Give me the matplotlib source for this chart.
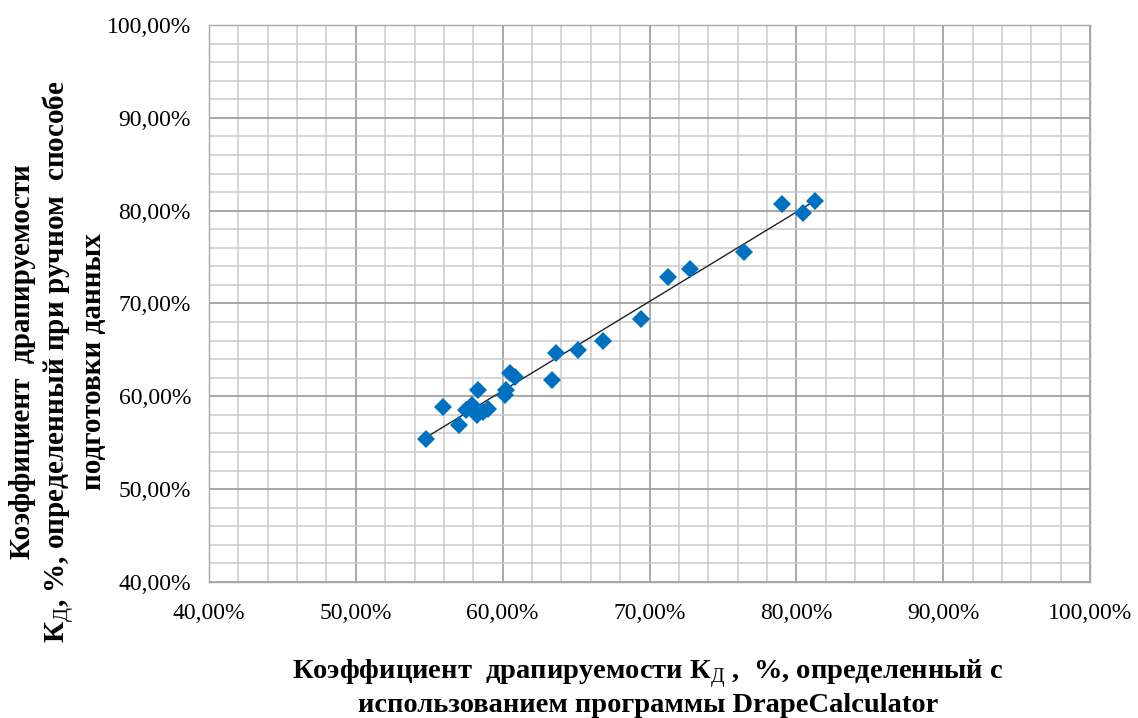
import numpy as np
import matplotlib
matplotlib.use('Agg')
import matplotlib.pyplot as plt
from matplotlib.ticker import MultipleLocator, FuncFormatter

plt.rcParams['font.family'] = ['Liberation Serif', 'DejaVu Serif']
plt.rcParams['mathtext.fontset'] = 'custom'
plt.rcParams['mathtext.rm'] = 'Liberation Serif'
plt.rcParams['mathtext.bf'] = 'Liberation Serif:bold'

# Kd from DrapeCalculator (x) vs manual method (y), %
kd_program = [54.81, 55.94, 57.03, 57.48, 57.89, 58.23, 58.32, 58.64, 58.98,
              60.14, 60.20, 60.48, 60.82, 63.38, 63.65, 65.12, 66.80, 69.44,
              71.29, 72.77, 76.41, 79.03, 80.48, 81.27]
kd_manual = [55.45, 58.85, 56.96, 58.49, 59.03, 57.96, 60.72, 58.28, 58.60,
             60.11, 60.65, 62.47, 62.04, 61.72, 64.66, 64.95, 65.97, 68.35,
             72.83, 73.73, 75.59, 80.72, 79.71, 81.00]

x = np.array(kd_program)
y = np.array(kd_manual)

fig = plt.figure(figsize=(11.38, 7.18), dpi=100)
ax = fig.add_axes([209/1138, 1-582/718, (1090-209)/1138, (582-25)/718])

# grid
ax.xaxis.set_major_locator(MultipleLocator(10))
ax.yaxis.set_major_locator(MultipleLocator(10))
ax.xaxis.set_minor_locator(MultipleLocator(2))
ax.yaxis.set_minor_locator(MultipleLocator(2))
ax.grid(which='minor', color='#cacaca', linewidth=1.1)
ax.grid(which='major', color='#9a9a9a', linewidth=1.2)
ax.set_axisbelow(True)

# linear trend
k, b = np.polyfit(x, y, 1)
xt = np.array([x.min(), x.max()])
ax.plot(xt, k*xt + b, color='#222222', linewidth=1.0, zorder=2)

ax.plot(x, y, linestyle='none', marker='D', markersize=9, color='#0070C0',
        markeredgewidth=0, zorder=3)

ax.set_xlim(40, 100)
ax.set_ylim(40, 100)

fmt = FuncFormatter(lambda v, p: f'{v:.2f}%'.replace('.', ','))
ax.xaxis.set_major_formatter(fmt)
ax.yaxis.set_major_formatter(fmt)
ax.tick_params(which='both', length=0, labelsize=17, colors='#000000')
ax.tick_params(axis='x', pad=15)
ax.tick_params(axis='y', pad=13)

for s in ax.spines.values():
    s.set_color('#a8a8a8')
    s.set_linewidth(1.0)

fig.text(648/1138, 1-688/718,
         'Коэффициент  драпируемости К$_\\mathrm{Д}$ ,  %, определенный с\n'
         'использованием программы DrapeCalculator',
         ha='center', va='center', fontsize=20.5, fontweight='bold',
         linespacing=1.12)

fig.text(58/1138, 1-362/718,
         'Коэффициент  драпируемости\n'
         'К$_\\mathrm{Д}$, %, определенный при ручном  способе\n'
         'подготовки данных',
         ha='center', va='center', rotation=90, fontsize=21,
         fontweight='bold', linespacing=1.17)

fig.savefig('out.png', dpi=100, facecolor='white')
